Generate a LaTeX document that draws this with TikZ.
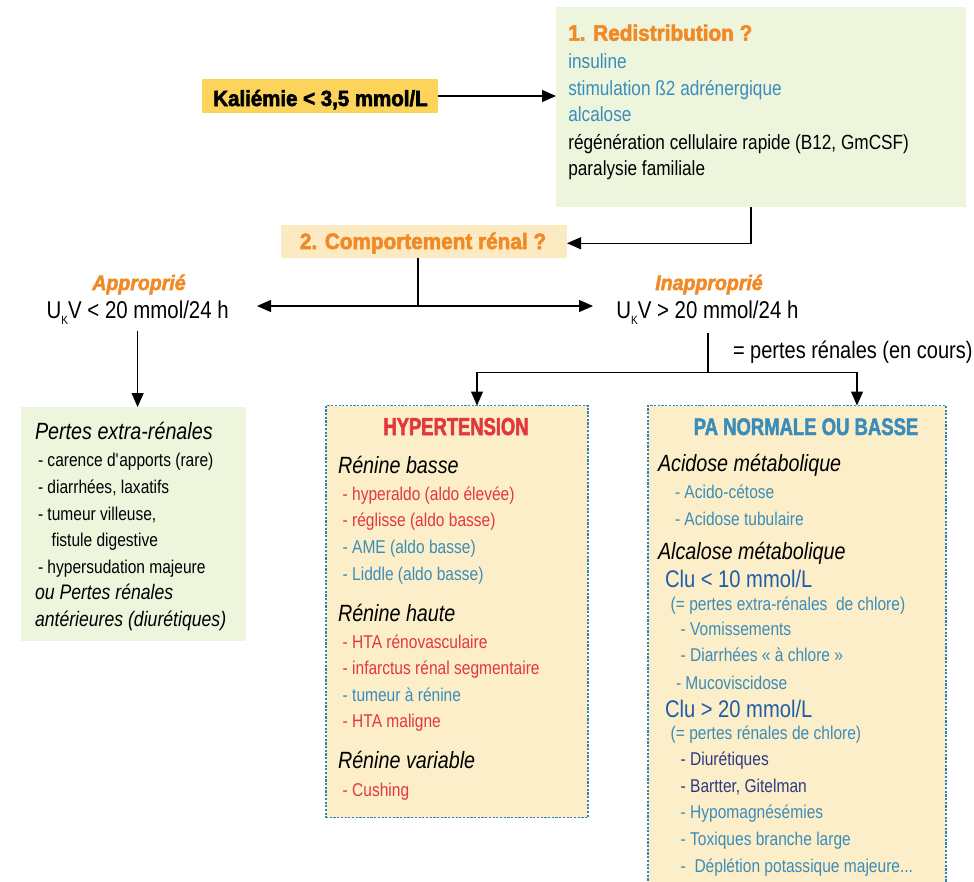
\documentclass[tikz,border=0pt]{standalone}
\usepackage{fontspec}
\setmainfont{Liberation Sans}[FakeStretch=0.84]
\newfontfamily\fbold{Liberation Sans Bold}[FakeStretch=0.93, FakeBold=2.6]
\newfontfamily\fboldit{Liberation Sans Bold Italic}[FakeStretch=0.93, FakeBold=2.4]
\newfontfamily\fhyp{Liberation Sans Bold}[FakeStretch=0.75, FakeBold=2.2]
\newfontfamily\fpa{Liberation Sans Bold}[FakeStretch=0.77, FakeBold=1.8]
\usetikzlibrary{arrows.meta}
\definecolor{orng}{HTML}{F18A26}
\definecolor{redc}{HTML}{E3373E}
\definecolor{bluec}{HTML}{3A8DBA}
\definecolor{clublue}{HTML}{1C5EA8}
\definecolor{navy}{HTML}{2D3A82}
\definecolor{greenfill}{HTML}{EEF5DD}
\definecolor{kalfill}{HTML}{FCD45C}
\definecolor{compfill}{HTML}{FCEBC2}
\definecolor{boxfill}{HTML}{FCEEC8}
\definecolor{dotc}{HTML}{2F86B6}
\tikzset{
  t/.style={anchor=base west, inner sep=0pt, outer sep=0pt},
  tc/.style={anchor=base, inner sep=0pt, outer sep=0pt},
  item/.style={t, font=\fontsize{18.5}{22}\selectfont},
  head/.style={t, font=\fontsize{23.5}{28}\selectfont\itshape},
  smallhead/.style={t, font=\fontsize{21}{25}\selectfont\itshape},
  body/.style={t, font=\fontsize{20.5}{24}\selectfont},
  boldo/.style={font=\fbold\fontsize{22.3}{26}\selectfont, text=orng},
  boldoit/.style={font=\fboldit\fontsize{21}{25}\selectfont, text=orng},
  plainbox/.style={draw=none, inner sep=0pt, outer sep=0pt, anchor=north west},
  dotbox/.style={plainbox, draw=dotc, line width=1.6pt, dash pattern=on 2.2pt off 1.5pt, fill=boxfill},
  arr/.style={-{Triangle[length=14pt,width=12pt]}, line width=1.2pt},
  ln/.style={line width=1.2pt},
}
\begin{document}
\begin{tikzpicture}[x=1pt,y=-1pt]
\useasboundingbox (0,0) rectangle (974,881);

% boxes
\node[plainbox, fill=kalfill, minimum width=236pt, minimum height=34pt] (kal) at (202,79) {};
\node[tc, font=\fbold\fontsize{22}{26}\selectfont] (kaltxt) at (320.5,106) {Kaliémie < 3,5 mmol/L};
\node[plainbox, fill=greenfill, minimum width=410pt, minimum height=199.5pt] (redis) at (556,7) {};
\node[plainbox, fill=compfill, minimum width=286pt, minimum height=32.5pt] (comp) at (281,225) {};
\node[tc, boldo] (comptxt) at (423,249) {2. Comportement rénal ?};
\node[plainbox, fill=greenfill, minimum width=225pt, minimum height=234pt] (lbox) at (21,407) {};
\node[dotbox, minimum width=262pt, minimum height=412pt] (hbox) at (326,405.5) {};
\node[dotbox, minimum width=298pt, minimum height=500pt] (rbox) at (648,405.5) {};

% green top box text
\node[t, boldo] (r0) at (568.3,40.7) {1. Redistribution ?};
\node[body, text=bluec] (r1) at (568.3,68) {insuline};
\node[body, text=bluec] (r2) at (568.3,95) {stimulation ß2 adrénergique};
\node[body, text=bluec] (r3) at (568.3,121.7) {alcalose};
\node[body] (r4) at (568.3,149) {régénération cellulaire rapide (B12, GmCSF)};
\node[body] (r5) at (568.3,175.3) {paralysie familiale};

% middle row
\node[tc, boldoit] (appr) at (139,290) {Approprié};
\node[t, font=\fontsize{24.3}{28}\selectfont] (uL) at (46.7,318.3) {U\raisebox{-6.5pt}{\fontsize{12}{12}\selectfont K}V < 20 mmol/24 h};
\node[tc, boldoit] (inappr) at (709,290) {Inapproprié};
\node[t, font=\fontsize{24.3}{28}\selectfont] (uR) at (616.4,318.3) {U\raisebox{-6.5pt}{\fontsize{12}{12}\selectfont K}V > 20 mmol/24 h};
\node[t, font=\fontsize{23.8}{28}\selectfont] (pr) at (733,358.3) {= pertes rénales (en cours)};

% left box text
\node[head] (l0) at (35,439.3) {Pertes extra-rénales};
\node[item] (l1) at (38,466.7) {- carence d\textquotesingle apports (rare)};
\node[item] (l2) at (38,493.3) {- diarrhées, laxatifs};
\node[item] (l3) at (38,520) {- tumeur villeuse,};
\node[item] (l4) at (51.7,546) {fistule digestive};
\node[item] (l5) at (38,573.3) {- hypersudation majeure};
\node[smallhead] (l6) at (35,599.3) {ou Pertes rénales};
\node[smallhead] (l7) at (35,626) {antérieures (diurétiques)};

% hypertension box text
\node[tc, font=\fhyp\fontsize{24.5}{28}\selectfont, text=redc] (h0) at (456,435) {HYPERTENSION};
\node[head] (h1) at (338,473.3) {Rénine basse};
\node[item, text=redc] (h2) at (342.7,500) {- hyperaldo (aldo élevée)};
\node[item, text=redc] (h3) at (342.7,526.7) {- réglisse (aldo basse)};
\node[item, text=bluec] (h4) at (342.7,553.3) {- AME (aldo basse)};
\node[item, text=bluec] (h5) at (342.7,580) {- Liddle (aldo basse)};
\node[head] (h6) at (338,621) {Rénine haute};
\node[item, text=redc] (h7) at (342.7,648.3) {- HTA rénovasculaire};
\node[item, text=redc] (h8) at (342.7,674.3) {- infarctus rénal segmentaire};
\node[item, text=bluec] (h9) at (342.7,701) {- tumeur à rénine};
\node[item, text=redc] (h10) at (342.7,727.7) {- HTA maligne};
\node[head] (h11) at (338,768.3) {Rénine variable};
\node[item, text=redc] (h12) at (342.7,796) {- Cushing};

% PA normale box text
\node[tc, font=\fpa\fontsize{24}{28}\selectfont, text=bluec] (p0) at (806,435) {PA NORMALE OU BASSE};
\node[head] (p1) at (658,471.7) {Acidose métabolique};
\node[item, text=bluec] (p2) at (675,498.3) {- Acido-cétose};
\node[item, text=bluec] (p3) at (675,525) {- Acidose tubulaire};
\node[head] (p4) at (658,559.3) {Alcalose métabolique};
\node[t, font=\fontsize{24}{28}\selectfont, text=clublue] (p5) at (665,587.7) {Clu < 10 mmol/L};
\node[item, text=bluec] (p6) at (670.7,610) {(= pertes extra-rénales\ \ de chlore)};
\node[item, text=bluec] (p7) at (680.7,635) {- Vomissements};
\node[item, text=bluec] (p8) at (680.7,661.7) {- Diarrhées « à chlore »};
\node[item, text=bluec] (p9) at (676,689.3) {- Mucoviscidose};
\node[t, font=\fontsize{24}{28}\selectfont, text=clublue] (p10) at (665,717.3) {Clu > 20 mmol/L};
\node[item, text=bluec] (p11) at (670.7,739.3) {(= pertes rénales de chlore)};
\node[item, text=navy] (p12) at (680.7,765) {- Diurétiques};
\node[item, text=navy] (p13) at (680.7,792.7) {- Bartter, Gitelman};
\node[item, text=bluec] (p14) at (680.7,818.3) {- Hypomagnésémies};
\node[item, text=bluec] (p15) at (680.7,845) {- Toxiques branche large};
\node[item, text=bluec] (p16) at (680.7,872.3) {-\ \ Déplétion potassique majeure...};

% connectors
\draw[arr] (kal.east) -- (kal.east -| redis.west);
\coordinate (k1) at (751,206.5);
\draw[arr] (k1) |- ([yshift=-2pt]comp.east);
\coordinate (j1) at (418,306);
\coordinate (aL) at (257,306);
\coordinate (aR) at (593,306);
\draw[ln] (comp.south -| j1) -- (j1);
\draw[arr] (j1) -- (aL);
\draw[arr] (j1) -- (aR);
\coordinate (d1) at (137.6,331);
\draw[arr] (d1) -- (d1 |- lbox.north);
\coordinate (d2) at (708,333);
\coordinate (j2) at (708,372.7);
\draw[ln] (d2) -- (j2);
\draw[arr] (j2) -| ([xshift=20pt]hbox.north);
\draw[arr] (j2) -| ([xshift=60pt]rbox.north);
\end{tikzpicture}
\end{document}
